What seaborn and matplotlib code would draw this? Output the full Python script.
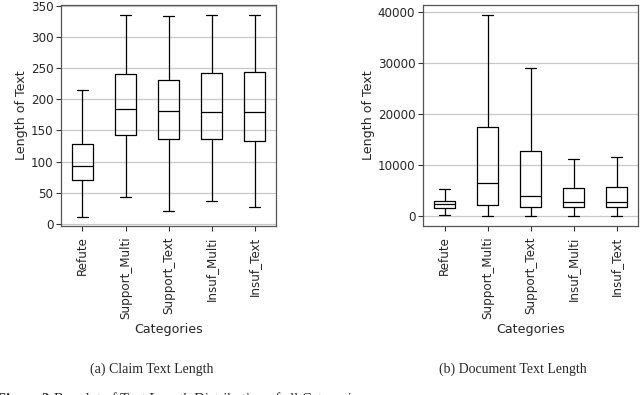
import pandas as pd
import numpy as np
import matplotlib
matplotlib.use('Agg')
import matplotlib.pyplot as plt
import seaborn as sns

categories = ['Refute', 'Support_Multi', 'Support_Text', 'Insuf_Multi', 'Insuf_Text']

# five-number summaries: min, Q1, median, Q3, max
claim_refute = [12, 70, 93, 128, 215]
claim_support_multi = [43, 142, 184, 240, 335]
claim_support_text = [21, 136, 181, 231, 333]
claim_insuf_multi = [37, 137, 180, 242, 335]
claim_insuf_text = [27, 133, 180, 244, 335]

doc_refute = [100, 1570, 2350, 3000, 5200]
doc_support_multi = [0, 2200, 6400, 17430, 39400]
doc_support_text = [0, 1800, 3900, 12700, 29000]
doc_insuf_multi = [0, 1750, 2800, 5500, 11200]
doc_insuf_text = [0, 1750, 2670, 5700, 11500]

claim_lists = [claim_refute, claim_support_multi, claim_support_text, claim_insuf_multi, claim_insuf_text]
doc_lists = [doc_refute, doc_support_multi, doc_support_text, doc_insuf_multi, doc_insuf_text]


def to_frame(lists):
    rows = []
    for cat, vals in zip(categories, lists):
        for v in vals:
            rows.append({'Categories': cat, 'Length of Text': v})
    return pd.DataFrame(rows)


claim_df = to_frame(claim_lists)
doc_df = to_frame(doc_lists)

sns.set_style('white')
plt.rcParams['font.family'] = ['DejaVu Sans']

fig = plt.figure(figsize=(6.4, 3.95), dpi=100)
ax1 = fig.add_axes([0.0953, 0.428, 0.336, 0.5595])
ax2 = fig.add_axes([0.661, 0.428, 0.336, 0.5595])

for ax, df in [(ax1, claim_df), (ax2, doc_df)]:
    ax.yaxis.grid(True, color='#c8c8c8', linewidth=0.9)
    ax.set_axisbelow(True)
    sns.boxplot(data=df, x='Categories', y='Length of Text', order=categories,
                whis=(0, 100), fill=False, color='black', width=0.5,
                linewidth=0.9, ax=ax)
    ax.set_xlabel('Categories', fontsize=9.1, labelpad=3)
    ax.set_ylabel('Length of Text', fontsize=9.1, labelpad=2)
    ax.tick_params(axis='x', rotation=90, labelsize=8.6, length=3.5, width=0.8, pad=4)
    ax.tick_params(axis='y', labelsize=8.6, length=3.5, width=0.8, pad=2)
    ax.tick_params(bottom=True, left=True, color='#333333')
    for s in ax.spines.values():
        s.set_color('#555555')
        s.set_linewidth(0.9)

ax1.set_ylim(-3, 351)
ax1.set_yticks(range(0, 351, 50))
ax2.set_yticks(range(0, 40001, 10000))

serif = ['Liberation Serif', 'DejaVu Serif']
fig.text(152 / 640, 1 - 369 / 395, '(a) Claim Text Length', ha='center', va='center',
         fontsize=10, family=serif)
fig.text(513 / 640, 1 - 369 / 395, '(b) Document Text Length', ha='center', va='center',
         fontsize=10, family=serif)
fig.text(-0.005, 1 - 399 / 395, 'Figure 2:', ha='left', va='center', fontsize=10.5,
         family=serif, fontweight='bold')
fig.text(0.085, 1 - 399 / 395, 'Boxplot of Text Length Distribution of all Categories',
         ha='left', va='center', fontsize=10.5, family=serif)

fig.savefig('out.png', dpi=100)
